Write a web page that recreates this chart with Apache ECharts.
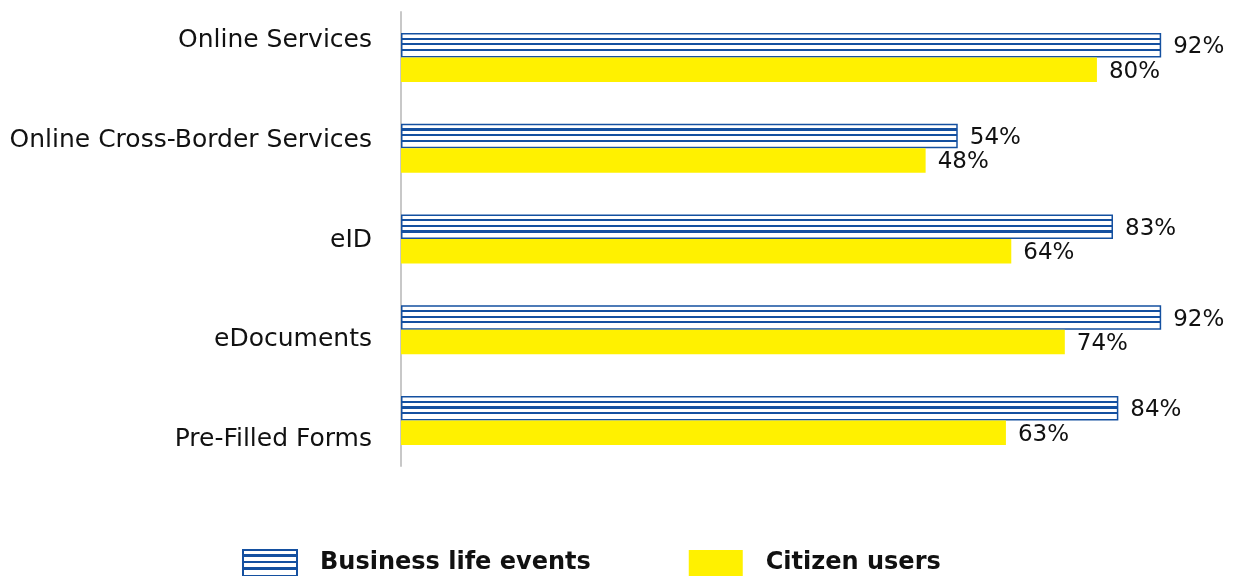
<!DOCTYPE html>
<html>
<head>
<meta charset="utf-8">
<script src="https://cdn.jsdelivr.net/npm/echarts@6/dist/echarts.min.js"></script>
<style>
  html, body { margin: 0; padding: 0; background: #fff; }
  #chart { width: 1240px; height: 576px; }
</style>
</head>
<body>
<div id="chart"></div>
<script>
const categories = ['Online Services', 'Online Cross-Border Services', 'eID', 'eDocuments', 'Pre-Filled Forms'];
const businessValues = [92, 54, 83, 92, 84];
const citizenValues = [80, 48, 64, 74, 63];
const seriesNames = ['Business life events', 'Citizen users'];

const BLUE = '#1450a0';
const YELLOW = '#fff100';
const FONT = 'DejaVu Sans';

// horizontal stripes, relative to each bar's own box
const stripes = {
    type: 'linear', x: 0, y: 0, x2: 0, y2: 1,
    colorStops: [
        { offset: 0, color: '#fff' },
        { offset: 0.19, color: '#fff' }, { offset: 0.19, color: BLUE },
        { offset: 0.28, color: BLUE }, { offset: 0.28, color: '#fff' },
        { offset: 0.42, color: '#fff' }, { offset: 0.42, color: BLUE },
        { offset: 0.51, color: BLUE }, { offset: 0.51, color: '#fff' },
        { offset: 0.65, color: '#fff' }, { offset: 0.65, color: BLUE },
        { offset: 0.74, color: BLUE }, { offset: 0.74, color: '#fff' },
        { offset: 1, color: '#fff' }
    ]
};

const chart = echarts.init(document.getElementById('chart'));

const valueLabel = {
    show: true,
    position: 'right',
    distance: 12,
    offset: [0, 2],
    formatter: '{c}%',
    color: '#111',
    fontFamily: FONT,
    fontSize: 23
};

chart.setOption({
    animation: false,
    backgroundColor: '#fff',
    grid: [
        { left: 401, right: 36, top: 12, bottom: 110 },
        // label column is spaced a little wider than the bar groups
        { left: 401, right: 36, top: 0, bottom: 78 }
    ],
    xAxis: [
        { type: 'value', gridIndex: 0, min: -50, max: 100, startValue: -50, show: false },
        { type: 'value', gridIndex: 1, min: 0, max: 1, show: false }
    ],
    yAxis: [
        {
            type: 'category', gridIndex: 0, data: categories, inverse: true,
            axisLine: { onZero: false, lineStyle: { color: '#c8c8c8', width: 2 } },
            axisTick: { show: false },
            axisLabel: { show: false }
        },
        {
            type: 'category', gridIndex: 1, data: categories, inverse: true,
            axisLine: { show: false },
            axisTick: { show: false },
            axisLabel: {
                margin: 29, color: '#111', fontFamily: FONT, fontSize: 25,
                verticalAlign: 'bottom', lineHeight: 18
            }
        }
    ],
    legend: {
        left: 237,
        top: 544,
        icon: 'rect',
        itemWidth: 54,
        itemHeight: 26,
        itemGap: 98,
        data: seriesNames,
        textStyle: {
            color: '#111', fontFamily: FONT, fontSize: 24, fontWeight: 'bold',
            padding: [0, 0, 0, 18]
        }
    },
    series: [
        {
            name: seriesNames[0],
            type: 'bar',
            xAxisIndex: 0, yAxisIndex: 0,
            data: businessValues,
            barWidth: 24.5,
            barGap: '0%',
            itemStyle: { color: stripes, borderColor: BLUE, borderWidth: 1.5 },
            label: valueLabel
        },
        {
            name: seriesNames[1],
            type: 'bar',
            xAxisIndex: 0, yAxisIndex: 0,
            data: citizenValues,
            barWidth: 24.5,
            barGap: '0%',
            itemStyle: { color: YELLOW },
            label: valueLabel
        }
    ]
});
</script>
</body>
</html>
